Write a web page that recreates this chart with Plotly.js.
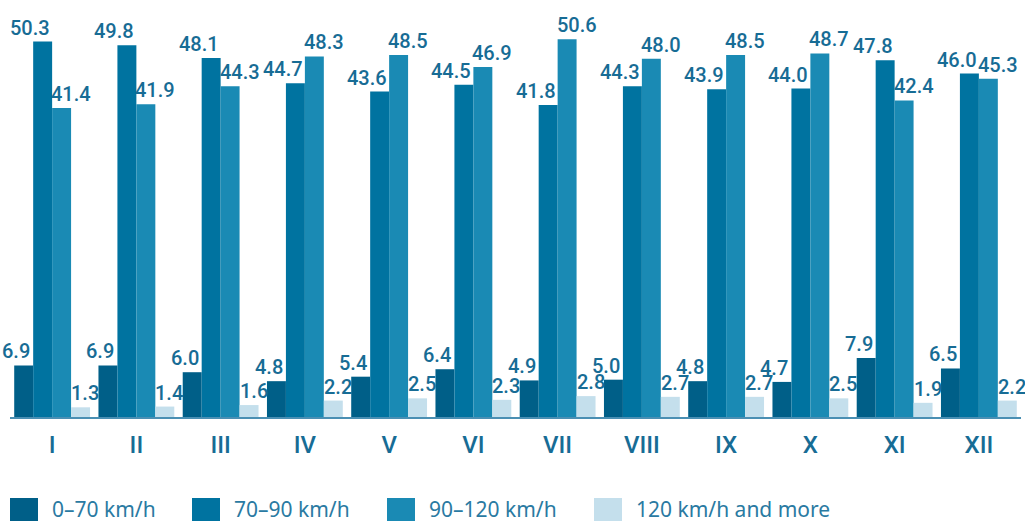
<!DOCTYPE html>
<html>
<head>
<meta charset="utf-8">
<script src="https://cdn.plot.ly/plotly-3.0.1.min.js"></script>
<style>html,body{margin:0;padding:0;background:#fff}#chart{width:1025px;height:521px}</style>
</head>
<body>
<div id="chart"></div>
<script>
const months = ['I','II','III','IV','V','VI','VII','VIII','IX','X','XI','XII'];
const seriesNames = ['0–70 km/h','70–90 km/h','90–120 km/h','120 km/h and more'];
const speed0_70 = [6.9, 6.9, 6.0, 4.8, 5.4, 6.4, 4.9, 5.0, 4.8, 4.7, 7.9, 6.5];
const speed70_90 = [50.3, 49.8, 48.1, 44.7, 43.6, 44.5, 41.8, 44.3, 43.9, 44.0, 47.8, 46.0];
const speed90_120 = [41.4, 41.9, 44.3, 48.3, 48.5, 46.9, 50.6, 48.0, 48.5, 48.7, 42.4, 45.3];
const speed120plus = [1.3, 1.4, 1.6, 2.2, 2.5, 2.3, 2.8, 2.7, 2.7, 2.5, 1.9, 2.2];

const seriesValues = [speed0_70, speed70_90, speed90_120, speed120plus];
const colors = ['#005f88', '#0073a0', '#1a8ab4', '#c4dfec'];
const labelColor = '#176c95';
const labelFont = {family: 'Roboto, sans-serif', size: 20, color: labelColor, weight: 500};

const traces = seriesValues.map((vals, i) => ({
  type: 'bar',
  name: seriesNames[i],
  x: months,
  y: vals,
  marker: {color: colors[i], line: {width: 0}},
  cliponaxis: false,
  hoverinfo: 'none'
}));

// plot area in pixels
const L = 10, R = 1021, T = 0, B = 417;
const px = x => (x - L) / (R - L);
const py = y => (B - y) / (B - T);

// bar geometry (style): group width and single bar width in pixels
const bargap = 0.1;
const groupPx = (R - L) / months.length;
const barPx = groupPx * (1 - bargap) / seriesValues.length;
// value labels: first two series end at their bar's right edge, last two start at their bar's left edge
const labelAnchor = ['right', 'right', 'left', 'left'];
const labelShift = [-barPx - 2, -1, -2, barPx - 1];

const annotations = [];
seriesValues.forEach((vals, i) => {
  vals.forEach((v, j) => {
    annotations.push({xref: 'x', yref: 'y', x: months[j], y: v,
      xanchor: labelAnchor[i], yanchor: 'bottom', xshift: labelShift[i], yshift: 1,
      text: v.toFixed(1), showarrow: false, font: labelFont, borderpad: 0});
  });
});

const legendBoxX = [10, 192, 387, 594];
const shapes = [];
seriesNames.forEach((n, i) => {
  shapes.push({type: 'rect', xref: 'paper', yref: 'paper',
    x0: px(legendBoxX[i]), x1: px(legendBoxX[i] + 28), y0: py(498), y1: py(521),
    fillcolor: colors[i], line: {width: 0}});
  annotations.push({xref: 'paper', yref: 'paper', x: px(legendBoxX[i] + 40), y: py(509),
    xanchor: 'left', yanchor: 'middle', text: n, showarrow: false,
    font: {family: 'Noto Sans, sans-serif', size: 21, color: '#2a7aa2'}});
});

const layout = {
  width: 1025, height: 521,
  margin: {l: L, r: 1025 - R, t: T, b: 521 - B},
  paper_bgcolor: '#ffffff', plot_bgcolor: '#ffffff',
  barmode: 'group', bargap: bargap, bargroupgap: 0,
  showlegend: false,
  xaxis: {type: 'category', range: [-0.5, 11.5], showgrid: false, zeroline: false,
    showline: true, linecolor: '#4a8fb3', linewidth: 2, ticks: '',
    tickfont: {family: 'Roboto, sans-serif', size: 24, color: labelColor, weight: 500},
    ticklabelstandoff: 5, fixedrange: true},
  yaxis: {range: [0, 417 / 7.465], visible: false, showgrid: false, zeroline: false, fixedrange: true},
  shapes: shapes,
  annotations: annotations,
  font: {family: 'Roboto, sans-serif'}
};

Plotly.newPlot('chart', traces, layout, {displayModeBar: false, staticPlot: true});
</script>
</body>
</html>
